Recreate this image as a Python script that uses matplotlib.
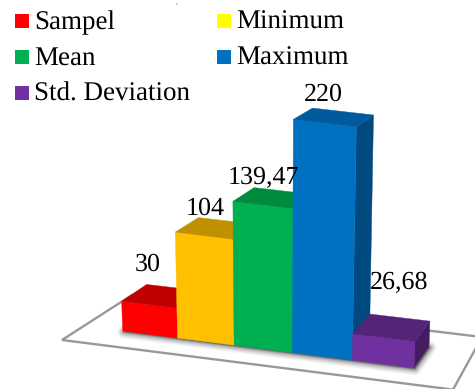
import matplotlib
matplotlib.use("Agg")
import matplotlib.pyplot as plt
from matplotlib.patches import Polygon, Rectangle

plt.rcParams["font.family"] = ["Liberation Serif", "DejaVu Serif"]
plt.rcParams["text.hinting"] = "no_hinting"
plt.rcParams["text.hinting_factor"] = 1

# Bar values and their printed labels
categories = ["Sampel", "Minimum", "Mean", "Maximum", "Std. Deviation"]
values = [30, 104, 139.47, 220, 26.68]
value_labels = ["30", "104", "139,47", "220", "26,68"]

LEGEND_COLORS = ["#FF0000", "#FFFF00", "#00B050", "#0070C0", "#7030A0"]
FRONT_COLORS = ["#FF0000", "#FFC000", "#00B050", "#0070C0", "#7030A0"]
TOP_COLORS = ["#C00000", "#BF9000", "#008A3E", "#005A9E", "#542478"]
SIDE_COLORS = ["#A00000", "#9F7800", "#00702F", "#004A80", "#431D60"]

# Label shift from the top of the bar, in pixels
LABEL_SHIFT = [(-2, -14), (1, -3), (0.5, -4), (-1, -7), (15, -25)]


def project(slot, depth, value):
    """Map bar slot, depth (0 front, 1 back) and value to pixel coordinates."""
    base_x = 122.7 + 54 * slot + 0.85 * slot**2
    base_y = 331 + 0.127 * (base_x - 122.7)
    x = base_x + (base_x - 272) * value / 4400
    y = base_y - value * (0.98 + 0.08 * value / 220)
    x += depth * (25 - 0.034 * (base_x - 122))
    y -= depth * (18 + 0.012 * (base_x - 122) - 0.04 * value)
    return x, y


def draw_bar(ax, slot, value, front, top, side):
    """Draw the side, front and top faces of one bar."""
    a, b = slot, slot + 1
    ax.add_patch(Polygon([project(b, 0, 0), project(b, 1, 0), project(b, 1, value), project(b, 0, value)],
                         facecolor=side, edgecolor=side, lw=0.3, zorder=3))
    ax.add_patch(Polygon([project(a, 0, 0), project(b, 0, 0), project(b, 0, value), project(a, 0, value)],
                         facecolor=front, edgecolor=front, lw=0.3, zorder=3))
    ax.add_patch(Polygon([project(a, 0, value), project(b, 0, value), project(b, 1, value), project(a, 1, value)],
                         facecolor=top, edgecolor=top, lw=0.3, zorder=3))


fig = plt.figure(figsize=(4.75, 3.89), dpi=100)
ax = fig.add_axes([0, 0, 1, 1])
ax.set_xlim(0, 475)
ax.set_ylim(389, 0)
ax.axis("off")

# Floor plate, its far corner just past the right of the frame
ax.add_patch(Polygon([(62, 340), (132, 295), (482, 337), (453, 389.6)], closed=True,
                     facecolor="white", edgecolor="#999999", lw=1.7, joinstyle="miter", zorder=1))

# Soft contact shadow built from stacked translucent strokes
n = len(values)
footprint = [project(0, 0, 0), project(n, 0, 0), project(n, 1, 0), project(0, 1, 0)]
footprint = [(x + 1, y + 1) for x, y in footprint]
for lw, alpha in [(9, 0.05), (7, 0.07), (5, 0.09), (3, 0.12), (1.5, 0.18)]:
    ax.add_patch(Polygon(footprint, facecolor="#333333", edgecolor="black", lw=lw, alpha=alpha,
                         joinstyle="round", zorder=2))

for i, value in enumerate(values):
    draw_bar(ax, i, value, FRONT_COLORS[i], TOP_COLORS[i], SIDE_COLORS[i])
    x0, _ = project(i, 0, value)
    x1, _ = project(i + 1, 0, value)
    _, y_back = project(i, 1, value)
    dx, dy = LABEL_SHIFT[i]
    ax.text((x0 + x1) / 2 + dx, y_back + dy, value_labels[i], ha="center", va="baseline",
            fontsize=19, color="black", zorder=5)

# Two-column legend, filled row by row
for i, name in enumerate(categories):
    col, row = i % 2, i // 2
    x = 15 + col * 202
    y = 14 + row * 36
    ax.add_patch(Rectangle((x, y), 14, 14, facecolor=LEGEND_COLORS[i], edgecolor="none", zorder=5))
    ax.text(x + 19.5, y + 15, name, ha="left", va="baseline", fontsize=19.4, color="black", zorder=5)

# Small comma at the top edge
ax.text(176, 4, ",", ha="left", va="baseline", fontsize=5, color="#333333", zorder=5)

fig.savefig("out.png", dpi=100)
plt.close(fig)
